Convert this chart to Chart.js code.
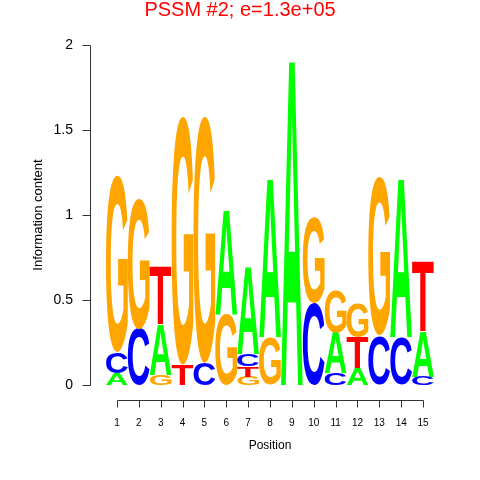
<!DOCTYPE html>
<html>
<head>
<meta charset="utf-8">
<script src="https://cdn.jsdelivr.net/npm/chart.js@4.4.1/dist/chart.umd.min.js"></script>
<style>
html,body{margin:0;padding:0;background:#ffffff;}
#wrap{width:480px;height:480px;}
</style>
</head>
<body>
<div id="wrap"><canvas id="c" width="480" height="480"></canvas></div>
<script>
// ---- data (information content, bits) ----
const titleText = 'PSSM #2; e=1.3e+05';
const positions = ['1','2','3','4','5','6','7','8','9','10','11','12','13','14','15'];
const bitsA = [0.07, 0.00, 0.30, 0.00, 0.00, 0.62, 0.52, 0.94, 1.93, 0.00, 0.24, 0.10, 0.00, 0.94, 0.27];
const bitsC = [0.12, 0.33, 0.00, 0.00, 0.13, 0.00, 0.07, 0.00, 0.00, 0.48, 0.07, 0.00, 0.29, 0.28, 0.05];
const bitsG = [1.04, 0.77, 0.06, 1.46, 1.45, 0.42, 0.05, 0.28, 0.00, 0.50, 0.25, 0.20, 0.93, 0.00, 0.00];
const bitsT = [0.00, 0.00, 0.34, 0.12, 0.00, 0.00, 0.06, 0.00, 0.00, 0.00, 0.00, 0.18, 0.00, 0.00, 0.41];
const yTicks = [0, 0.5, 1, 1.5, 2];

const letters = ['A', 'C', 'G', 'T'];
const letterColors = { A: '#00FF00', C: '#0000FF', G: '#FFA500', T: '#FF0000' };
const bits = { A: bitsA, C: bitsC, G: bitsG, T: bitsT };

// stack letters per position: smallest at bottom
const ranges = { A: [], C: [], G: [], T: [] };
positions.forEach((p, i) => {
  letters.forEach(l => { ranges[l][i] = null; });
  const order = letters.filter(l => bits[l][i] > 0).sort((a, b) => bits[a][i] - bits[b][i]);
  let base = 0;
  order.forEach(l => {
    ranges[l][i] = [base, base + bits[l][i]];
    base += bits[l][i];
  });
});

const FONT = '"Liberation Sans", Arial, Helvetica, sans-serif';

const logoPlugin = {
  id: 'logoLetters',
  afterDatasetsDraw(chart) {
    const ctx = chart.ctx;
    chart.data.datasets.forEach((ds, di) => {
      const meta = chart.getDatasetMeta(di);
      meta.data.forEach((el, i) => {
        if (ds.data[i] == null) return;
        const p = el.getProps(['x', 'y', 'base', 'width'], true);
        const top = Math.min(p.y, p.base);
        const h = Math.abs(p.base - p.y);
        const w = p.width;
        if (h <= 0.3) return;
        ctx.save();
        ctx.font = 'bold 100px ' + FONT;
        ctx.textBaseline = 'alphabetic';
        ctx.textAlign = 'left';
        const m = ctx.measureText(ds.letter);
        const gl = m.actualBoundingBoxLeft, gr = m.actualBoundingBoxRight;
        const ga = m.actualBoundingBoxAscent, gd = m.actualBoundingBoxDescent;
        const gw = gl + gr, gh = ga + gd;
        ctx.translate(p.x - w / 2, top);
        ctx.scale(w / gw, h / gh);
        ctx.fillStyle = ds.letterColor;
        ctx.fillText(ds.letter, gl, ga);
        ctx.restore();
      });
    });
  }
};

const axesPlugin = {
  id: 'rAxes',
  afterDraw(chart) {
    const ctx = chart.ctx;
    const xs = chart.scales.x, ys = chart.scales.y;
    const area = chart.chartArea;
    ctx.save();
    ctx.strokeStyle = '#333333';
    ctx.lineWidth = 1;
    // y axis
    const ax = Math.round(area.left - 16) + 0.5;
    ctx.beginPath();
    ctx.moveTo(ax, Math.round(ys.getPixelForValue(yTicks[0])) + 0.5);
    ctx.lineTo(ax, Math.round(ys.getPixelForValue(yTicks[yTicks.length - 1])) + 0.5);
    yTicks.forEach(v => {
      const py = Math.round(ys.getPixelForValue(v)) + 0.5;
      ctx.moveTo(ax, py);
      ctx.lineTo(ax - 8, py);
    });
    ctx.stroke();
    // x axis
    const ay = Math.round(area.bottom + 15) + 0.5;
    ctx.beginPath();
    ctx.moveTo(Math.round(xs.getPixelForValue(0)) + 0.5, ay);
    ctx.lineTo(Math.round(xs.getPixelForValue(positions.length - 1)) + 0.5, ay);
    positions.forEach((p, i) => {
      const px = Math.round(xs.getPixelForValue(i)) + 0.5;
      ctx.moveTo(px, ay);
      ctx.lineTo(px, ay + 7);
    });
    ctx.stroke();
    ctx.restore();
  }
};

const datasets = letters.map(l => ({
  label: l,
  letter: l,
  letterColor: letterColors[l],
  data: ranges[l],
  backgroundColor: 'rgba(0,0,0,0)',
  borderWidth: 0,
  grouped: false,
  barPercentage: 1,
  categoryPercentage: 1
}));

new Chart(document.getElementById('c'), {
  type: 'bar',
  data: { labels: positions, datasets },
  options: {
    responsive: false,
    animation: false,
    events: [],
    layout: { padding: { left: 0, right: 0, top: 0, bottom: 0 } },
    plugins: {
      legend: { display: false },
      tooltip: { enabled: false },
      title: {
        display: true,
        text: titleText,
        color: '#FF0000',
        font: { family: FONT, size: 20, weight: 'normal', lineHeight: 1.0 },
        padding: { top: 0, bottom: 25 }
      }
    },
    scales: {
      x: {
        type: 'category',
        offset: true,
        grid: { display: false, drawTicks: false, tickLength: 0 },
        border: { display: false },
        ticks: {
          autoSkip: false, maxRotation: 0, minRotation: 0,
          color: '#000000', padding: 32,
          font: { family: FONT, size: 10 }
        },
        title: {
          display: true, text: 'Position', color: '#000000',
          font: { family: FONT, size: 12 },
          padding: { top: 0, bottom: 27 }
        },
        afterFit(s) { s.height = 95; }
      },
      y: {
        type: 'linear',
        min: 0, max: 2,
        afterBuildTicks(s) { s.ticks = yTicks.map(v => ({ value: v })); },
        grid: { display: false, drawTicks: false, tickLength: 0 },
        border: { display: false },
        ticks: {
          color: '#000000', padding: 33,
          font: { family: FONT, size: 14 },
          callback: v => String(v)
        },
        title: {
          display: true, text: 'Information content', color: '#000000',
          font: { family: FONT, size: 13 },
          padding: { top: 31, bottom: 0 }
        },
        afterFit(s) { s.width = 106; }
      },
      yRight: {
        type: 'linear',
        position: 'right',
        min: 0, max: 2,
        grid: { display: false, drawTicks: false },
        border: { display: false },
        ticks: { display: false },
        afterFit(s) { s.width = 46; }
      }
    }
  },
  plugins: [logoPlugin, axesPlugin]
});
</script>
</body>
</html>
